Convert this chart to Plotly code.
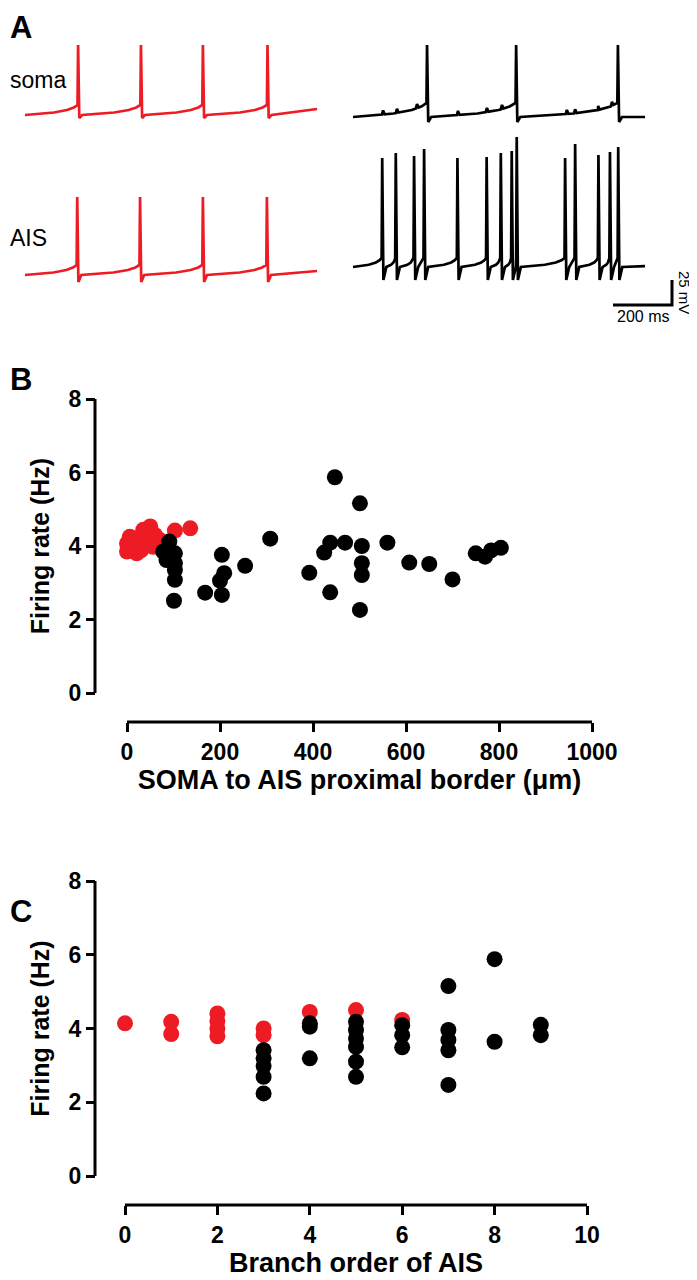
import numpy as np
import plotly.graph_objects as go

# The page body adds an 8px margin, so the figure is drawn 8px in from the
# screenshot's top-left corner; screen pixels are converted accordingly.
PAGE_OFF = 8
W, H = 697 - PAGE_OFF, 1280 - PAGE_OFF
RED = "rgb(237,28,36)"
BLACK = "black"
FONT = "Liberation Sans, Arial, sans-serif"

# ---------------- Panel A data (times in ms, voltages in mV) ----------------
TRACE_DURATION_MS = 990
RED_SOMA_SPIKES_MS = [180, 393, 603, 822]
RED_SOMA_PEAKS_MV = [5, 5, 5, 5]
RED_AIS_SPIKES_MS = [177, 390, 603, 820]
RED_AIS_PEAKS_MV = [3, 3, 3, 3]
BLACK_SOMA_SPIKES_MS = [251, 553, 898]
BLACK_SOMA_PEAKS_MV = [5, 5, 5]
BLACK_SOMA_BUMPS_MS = [102, 149, 217, 356, 454, 505, 725, 753, 831, 878]
BLACK_AIS_SPIKES_MS = [99, 145, 207, 241, 354, 453, 501, 538, 555, 719, 753, 832, 871, 899]
BLACK_AIS_PEAKS_MV = [42, 47, 44, 51, 42, 43, 47, 49, 63, 42, 56, 45, 48, 53]
SCALE_BAR_MS = 200
SCALE_BAR_MV = 25

# ---------------- Panel B data ----------------
B_RED_X = [0, 0, 6, 12, 17, 21, 28, 30, 35, 39, 42, 45, 50, 56, 60, 71, 103, 136]
B_RED_Y = [3.85, 4.07, 4.25, 3.92, 4.21, 3.80, 4.07, 3.88, 4.44, 4.30, 4.12, 4.35, 4.53, 3.98, 4.30, 4.16, 4.42, 4.48]
B_BLACK_X = [78, 85, 91, 101, 103, 103, 103, 103, 168, 200, 204, 204, 209, 254, 308,
             392, 424, 437, 437, 447, 469, 501, 501, 505, 505, 505, 560, 607, 650, 700,
             750, 770, 783, 804]
B_BLACK_Y = [3.85, 3.62, 4.12, 2.51, 3.80, 3.53, 3.35, 3.08, 2.73, 3.06, 2.67, 3.76, 3.26, 3.46, 4.20,
             3.27, 3.82, 2.74, 4.09, 5.87, 4.09, 2.26, 5.16, 4.00, 3.53, 3.21, 4.09, 3.55, 3.51, 3.09,
             3.80, 3.71, 3.88, 3.95]

# ---------------- Panel C data ----------------
C_RED_X = [0, 1, 1, 2, 2, 2, 2, 3, 3, 4, 5, 6]
C_RED_Y = [4.14, 4.18, 3.85, 4.41, 4.20, 4.00, 3.79, 4.00, 3.82, 4.45, 4.50, 4.23]
C_BLACK_X = [3, 3, 3, 3, 3, 4, 4, 4, 5, 5, 5, 5, 5, 5, 6, 6, 6, 7, 7, 7, 7, 7, 8, 8, 9, 9]
C_BLACK_Y = [3.41, 3.19, 2.98, 2.69, 2.24, 4.14, 4.05, 3.19, 4.18, 3.96, 3.73, 3.50, 3.10, 2.69,
             4.09, 3.82, 3.49, 5.15, 3.96, 3.69, 3.41, 2.47, 5.88, 3.64, 4.10, 3.82]

# ---------------- layout constants (screen pixels -> paper) ----------------
PX_PER_MS = 59 / 200.0
X0_RED_MS = 25 / PX_PER_MS
X0_BLACK_MS = 353 / PX_PER_MS
ROW_OFFSET_SOMA = 0
ROW_OFFSET_AIS = -150
RAMP_SHAPE = [(0.55, 0.25), (0.8, 0.5), (0.93, 0.75)]


def py(p):
    return 1 - (p - PAGE_OFF) / H


def px(p):
    return (p - PAGE_OFF) / W


def build_trace(spikes, peaks, rest, thr, ahp, end_frac=0.3, bumps=(), bump_h=3.0):
    t = [0.0]
    v = [rest]
    start = 0.0
    for ts, vp in zip(spikes, peaks):
        seg_end = ts - 2
        if start < seg_end:
            if start > t[-1]:
                t.append(start)
                v.append(rest)
            seg = seg_end - start
            if seg > 20:
                for f, g in RAMP_SHAPE:
                    t.append(start + f * seg)
                    v.append(rest + g * (thr - rest))
        t += [seg_end, ts, ts + 4]
        v += [thr, vp, ahp]
        start = ts + 14
    t += [start, TRACE_DURATION_MS]
    v += [rest, rest + end_frac * (thr - rest)]
    t = np.array(t, float)
    v = np.array(v, float)
    if len(bumps):
        extra_t, extra_v = [], []
        for tb in bumps:
            for dt, dh in ((-4, 0.0), (0, bump_h), (5, 0.0)):
                extra_t.append(tb + dt)
                extra_v.append(np.interp(tb + dt, t, v) + dh)
        t = np.concatenate([t, extra_t])
        v = np.concatenate([v, extra_v])
        order = np.argsort(t, kind="stable")
        t, v = t[order], v[order]
    return t, v


fig = go.Figure()

traces_A = [
    (build_trace(RED_SOMA_SPIKES_MS, RED_SOMA_PEAKS_MV, -65, -55, -68, 0.6), X0_RED_MS, ROW_OFFSET_SOMA, RED),
    (build_trace(RED_AIS_SPIKES_MS, RED_AIS_PEAKS_MV, -75, -65, -82, 0.4), X0_RED_MS, ROW_OFFSET_AIS, RED),
    (build_trace(BLACK_SOMA_SPIKES_MS, BLACK_SOMA_PEAKS_MV, -67, -53, -72, 0.0,
                 bumps=BLACK_SOMA_BUMPS_MS, bump_h=4.0), X0_BLACK_MS, ROW_OFFSET_SOMA, BLACK),
    (build_trace(BLACK_AIS_SPIKES_MS, BLACK_AIS_PEAKS_MV, -67, -58, -80, 0.1), X0_BLACK_MS, ROW_OFFSET_AIS, BLACK),
]
for (tt, vv), x0, off, col in traces_A:
    fig.add_trace(go.Scatter(x=tt + x0, y=vv + off, mode="lines",
                             line=dict(color=col, width=2.7),
                             xaxis="x", yaxis="y", hoverinfo="skip", showlegend=False))

# scale bar
BAR_X_END = 672 / PX_PER_MS
BAR_Y = 50 - 305
fig.add_trace(go.Scatter(x=[BAR_X_END - SCALE_BAR_MS, BAR_X_END, BAR_X_END],
                         y=[BAR_Y, BAR_Y, BAR_Y + SCALE_BAR_MV], mode="lines",
                         line=dict(color="black", width=3), xaxis="x", yaxis="y",
                         hoverinfo="skip", showlegend=False))

# Panel B & C scatter (red first, black on top)
for xs, ys, col, xa, ya in [
    (B_RED_X, B_RED_Y, RED, "x2", "y2"), (B_BLACK_X, B_BLACK_Y, BLACK, "x2", "y2"),
    (C_RED_X, C_RED_Y, RED, "x3", "y3"), (C_BLACK_X, C_BLACK_Y, BLACK, "x3", "y3"),
]:
    fig.add_trace(go.Scatter(x=xs, y=ys, mode="markers", cliponaxis=False,
                             marker=dict(color=col, size=16, line=dict(width=0)),
                             xaxis=xa, yaxis=ya, hoverinfo="skip", showlegend=False))

tickfont = dict(family=FONT, size=23, color="black", weight="bold")
xtitlefont = dict(family=FONT, size=27, color="black", weight="bold")
ytitlefont = dict(family=FONT, size=25, color="black", weight="bold")
axis_common = dict(showline=False, ticks="outside", ticklen=9, tickwidth=3, tickcolor="black",
                   showgrid=False, zeroline=False, tickfont=tickfont, automargin=False,
                   anchor="free")
hidden = dict(visible=False, automargin=False, showgrid=False, zeroline=False)

B_XLINE, C_XLINE, YLINE = 722, 1205, 95

fig.update_layout(
    width=W, height=H, margin=dict(l=0, r=0, t=0, b=0, autoexpand=False),
    paper_bgcolor="white", plot_bgcolor="white", showlegend=False,
    xaxis=dict(domain=[0, 1], range=[PAGE_OFF / PX_PER_MS, 697 / PX_PER_MS], anchor="y", **hidden),
    yaxis=dict(domain=[py(340), 1], range=[50 - 340, 50 - PAGE_OFF], anchor="x", **hidden),
    xaxis2=dict(domain=[px(127), px(592)], range=[0, 1000], position=py(B_XLINE),
                tickvals=[0, 200, 400, 600, 800, 1000],
                title=dict(text="SOMA to AIS proximal border (μm)", font=xtitlefont, standoff=4),
                **axis_common),
    yaxis2=dict(domain=[py(693), py(399)], range=[0, 8], position=px(YLINE),
                tickvals=[0, 2, 4, 6, 8],
                title=dict(text="Firing rate (Hz)", font=ytitlefont, standoff=10),
                **axis_common),
    xaxis3=dict(domain=[px(125), px(587)], range=[0, 10], position=py(C_XLINE),
                tickvals=[0, 2, 4, 6, 8, 10],
                title=dict(text="Branch order of AIS", font=xtitlefont, standoff=6),
                **axis_common),
    yaxis3=dict(domain=[py(1176), py(881)], range=[0, 8], position=px(YLINE),
                tickvals=[0, 2, 4, 6, 8],
                title=dict(text="Firing rate (Hz)", font=ytitlefont, standoff=10),
                **axis_common),
)

# axis lines (Prism-style detached axes)
line_style = dict(color="black", width=3)
shapes = []
for xa, ya, xline_px in (("x2", "y2", B_XLINE), ("x3", "y3", C_XLINE)):
    shapes.append(dict(type="line", xref=f"{xa} domain", yref="paper", x0=0, x1=1,
                       y0=py(xline_px), y1=py(xline_px), line=line_style, layer="above"))
    shapes.append(dict(type="line", xref="paper", yref=f"{ya} domain", x0=px(YLINE), x1=px(YLINE),
                       y0=0, y1=1, line=line_style, layer="above"))
fig.update_layout(shapes=shapes)

ann = []
for letter, ytop in (("A", PAGE_OFF), ("B", 360), ("C", 892)):
    ann.append(dict(text=letter, x=0, y=py(ytop), xref="paper", yref="paper",
                    xanchor="left", yanchor="top", showarrow=False,
                    font=dict(family=FONT, size=31, color="black", weight="bold")))
for label, yc in (("soma", 80), ("AIS", 238)):
    ann.append(dict(text=label, x=0, y=py(yc), xref="paper", yref="paper",
                    xanchor="left", yanchor="middle", showarrow=False,
                    font=dict(family=FONT, size=23, color="black")))
ann.append(dict(text="200 ms", x=BAR_X_END - SCALE_BAR_MS / 2, y=BAR_Y, xref="x", yref="y",
                xanchor="center", yanchor="top", yshift=-1, showarrow=False,
                font=dict(family=FONT, size=16, color="black")))
ann.append(dict(text="25 mV", x=BAR_X_END, y=BAR_Y + SCALE_BAR_MV / 2, xref="x", yref="y",
                xanchor="left", yanchor="middle", xshift=2, textangle=90, showarrow=False,
                font=dict(family=FONT, size=15, color="black")))
fig.update_layout(annotations=ann)

fig.write_html("out.html")
